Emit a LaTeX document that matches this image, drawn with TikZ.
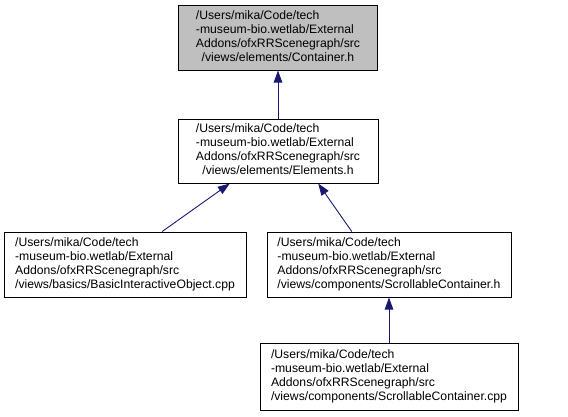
\documentclass[tikz,border=0pt]{standalone}
\usepackage{fontspec}
\setmainfont{Liberation Sans}
\usetikzlibrary{arrows.meta,calc}
\definecolor{edgeblue}{HTML}{191970}
\newcommand{\lbl}[4]{{\fontsize{12.2}{14}\selectfont\begin{tabular}{@{}l@{}}#1\\#2\\#3\\\multicolumn{1}{@{}c@{}}{#4}\end{tabular}}}
\tikzset{
  box/.style={draw=black, line width=1pt, inner sep=0pt, anchor=center},
  edge/.style={draw=edgeblue, line width=0.9pt, -{Triangle[length=12pt,width=8.5pt]}}
}
\begin{document}
\begin{tikzpicture}[x=1pt,y=-1pt]
\useasboundingbox[fill=white] (0,0) rectangle (568,416);
\node[box, fill={rgb,255:red,191;green,191;blue,191}, minimum width=199pt, minimum height=65pt] (c) at (278,37.5)
  {\lbl{/Users/mika/Code/tech}{-museum-bio.wetlab/External}{Addons/ofxRRScenegraph/src}{/views/elements/Container.h}};
\node[box, fill=white, minimum width=200pt, minimum height=64pt] (e) at (278,151)
  {\lbl{/Users/mika/Code/tech}{-museum-bio.wetlab/External}{Addons/ofxRRScenegraph/src}{/views/elements/Elements.h}};
\node[box, minimum width=242pt, minimum height=65pt] (b) at (125,264.5)
  {\lbl{/Users/mika/Code/tech}{-museum-bio.wetlab/External}{Addons/ofxRRScenegraph/src}{/views/basics/BasicInteractiveObject.cpp}};
\node[box, minimum width=244pt, minimum height=65pt] (s) at (389,264.5)
  {\lbl{/Users/mika/Code/tech}{-museum-bio.wetlab/External}{Addons/ofxRRScenegraph/src}{/views/components/ScrollableContainer.h}};
\node[box, minimum width=258pt, minimum height=67pt] (sc) at (389,376.5)
  {\lbl{/Users/mika/Code/tech}{-museum-bio.wetlab/External}{Addons/ofxRRScenegraph/src}{/views/components/ScrollableContainer.cpp}};
\draw[edge] (e.north) -- (c.south);
\draw[edge] ($(b.north west)!0.653!(b.north east)$) -- ($(e.south west)!0.26!(e.south east)$);
\draw[edge] ($(s.north west)!0.348!(s.north east)$) -- ($(e.south west)!0.70!(e.south east)$);
\draw[edge] (sc.north) -- (s.south);
\end{tikzpicture}
\end{document}
